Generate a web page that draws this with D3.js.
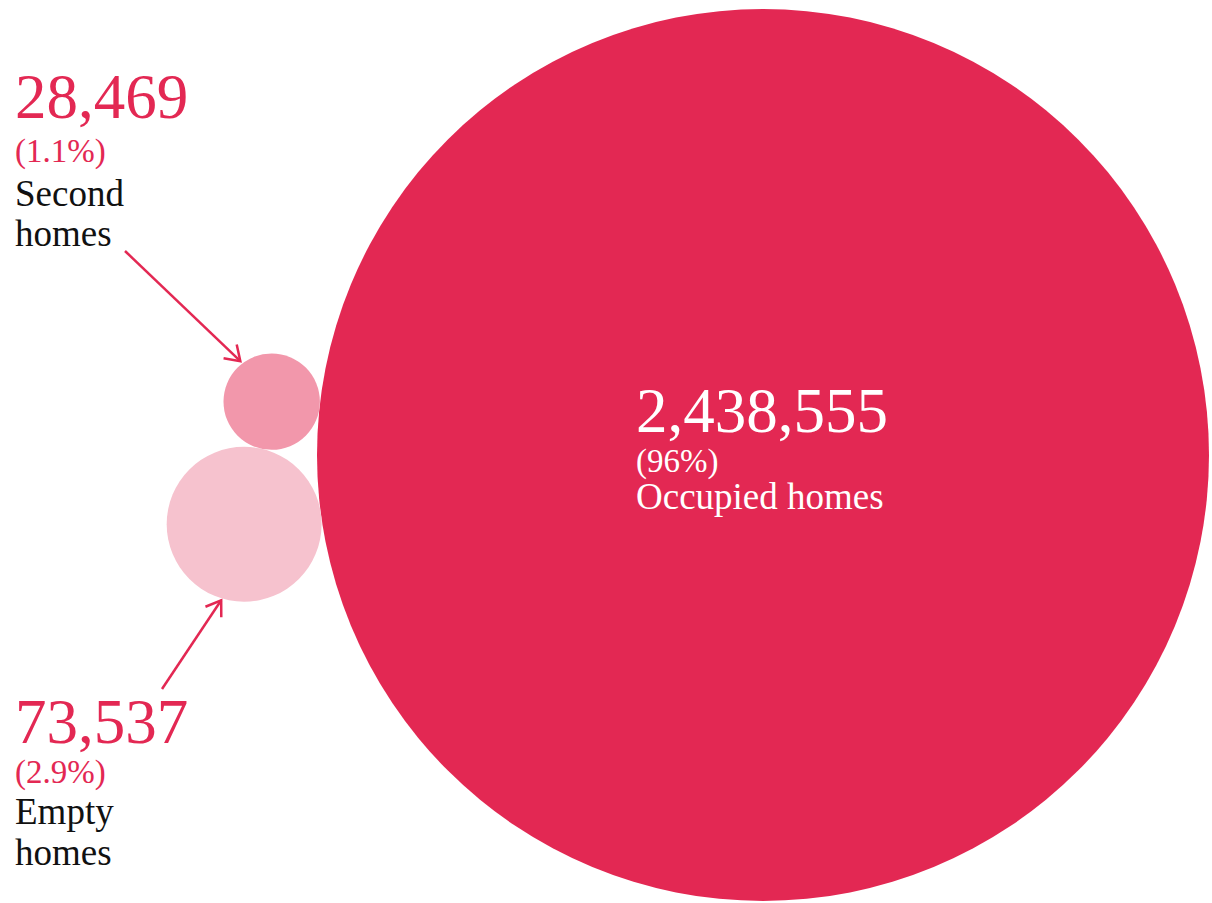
<!DOCTYPE html>
<html>
<head>
<meta charset="utf-8">
<script src="https://cdn.jsdelivr.net/npm/d3@7"></script>
<style>
  html, body { margin: 0; padding: 0; background: #fff; }
  svg { display: block; }
  text { font-family: "Liberation Serif", "DejaVu Serif", serif; }
</style>
</head>
<body>
<svg id="chart" width="1212" height="903"></svg>
<script>
// ---- data ----
const categories = ["Occupied homes", "Empty homes", "Second homes"];
const values = [2438555, 73537, 28469];
const percentLabels = ["(96%)", "(2.9%)", "(1.1%)"];
const labelLines = [["Occupied homes"], ["Empty", "homes"], ["Second", "homes"]];
const colors = ["#E32853", "#F6C2CE", "#F297AB"];

// ---- layout ----
const svg = d3.select("#chart");
const red = "#E32853";

const rScale = d3.scaleSqrt().domain([0, d3.max(values)]).range([0, 446]);
const radii = values.map(v => rScale(v));

// big circle centre, small circles packed tangentially to its left
const bigC = { x: 763, y: 455 };
const emptyAngle = (172.4 * Math.PI) / 180;
const R = radii[0], r1 = radii[1], r2 = radii[2];
const D = R + r1, d0 = R + r2, d1 = r1 + r2;
const alpha = Math.acos((D * D + d0 * d0 - d1 * d1) / (2 * D * d0));
const secondAngle = emptyAngle + alpha;
const centers = [
  bigC,
  { x: bigC.x + D * Math.cos(emptyAngle), y: bigC.y + D * Math.sin(emptyAngle) },
  { x: bigC.x + d0 * Math.cos(secondAngle), y: bigC.y + d0 * Math.sin(secondAngle) }
];

const nodes = categories.map((c, i) => ({
  name: c, value: values[i], r: radii[i], x: centers[i].x, y: centers[i].y,
  color: colors[i], pct: percentLabels[i], lines: labelLines[i]
}));

svg.selectAll("circle.bubble")
  .data(nodes)
  .join("circle")
  .attr("class", "bubble")
  .attr("cx", d => d.x)
  .attr("cy", d => d.y)
  .attr("r", d => d.r)
  .attr("fill", d => d.color);

const fmt = d3.format(",");

// label blocks: x, baselines of number / pct / first text line, colours
const labelLayout = [
  { x: 636, base: [432, 472, 509], numColor: "#fff", pctColor: "#fff", txtColor: "#fff", lineGap: 40 },
  { x: 15, base: [743, 783, 824], numColor: red, pctColor: red, txtColor: "#111", lineGap: 41 },
  { x: 15, base: [118, 162, 206], numColor: red, pctColor: red, txtColor: "#111", lineGap: 40 }
];

nodes.forEach((d, i) => {
  const L = labelLayout[i];
  const t = svg.append("text").attr("x", L.x).attr("y", L.base[0]);
  t.append("tspan").attr("x", L.x).attr("y", L.base[0])
    .attr("font-size", 63).attr("fill", L.numColor).text(fmt(d.value));
  t.append("tspan").attr("x", L.x).attr("y", L.base[1])
    .attr("font-size", 33).attr("fill", L.pctColor).text(d.pct);
  d.lines.forEach((ln, j) => {
    t.append("tspan").attr("x", L.x).attr("y", L.base[2] + j * L.lineGap)
      .attr("font-size", 37).attr("fill", L.txtColor).text(ln);
  });
});

// arrows from labels to the small circles
const arrows = [
  { node: 2, start: [125, 251], tipAngle: -127.8, gap: 3 },
  { node: 1, start: [162, 689], tipAngle: 106.8, gap: 2 }
];
arrows.forEach(a => {
  const n = nodes[a.node];
  const t = (a.tipAngle * Math.PI) / 180;
  const tip = [n.x + (n.r + a.gap) * Math.cos(t), n.y + (n.r + a.gap) * Math.sin(t)];
  const ang = Math.atan2(tip[1] - a.start[1], tip[0] - a.start[0]);
  const back = ang + Math.PI, spread = (34 * Math.PI) / 180, len = 17;
  const h1 = [tip[0] + len * Math.cos(back - spread), tip[1] + len * Math.sin(back - spread)];
  const h2 = [tip[0] + len * Math.cos(back + spread), tip[1] + len * Math.sin(back + spread)];
  const line = d3.line();
  svg.append("path").attr("d", line([a.start, tip]))
    .attr("stroke", red).attr("stroke-width", 2.5).attr("fill", "none");
  svg.append("path").attr("d", line([h1, tip, h2]))
    .attr("stroke", red).attr("stroke-width", 2.5).attr("fill", "none")
    .attr("stroke-linejoin", "miter");
});
</script>
</body>
</html>
